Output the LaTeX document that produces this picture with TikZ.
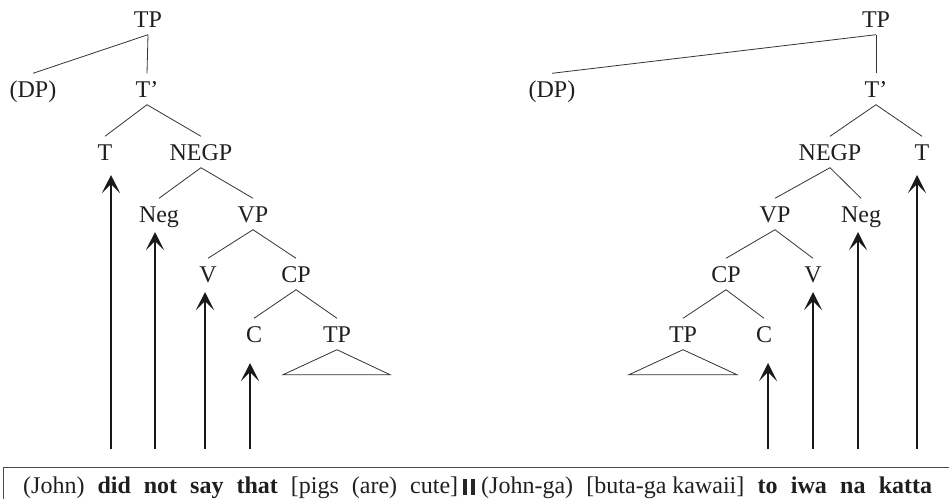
\documentclass[tikz,border=0pt]{standalone}
\usepackage{fontspec}
\setmainfont{Liberation Serif}
\usetikzlibrary{arrows.meta}
\begin{document}
\begin{tikzpicture}[x=1pt,y=-1pt,
  cat/.style={font=\fontsize{24}{28}\selectfont, text=black!88, inner xsep=0pt,
    inner ysep=7.5pt, text height=16pt, text depth=0pt, anchor=base},
  sent/.style={font=\fontsize{24}{28}\selectfont, text=black!88, inner sep=0pt, anchor=base west},
  branch/.style={draw=black!80, line width=0.8pt},
  move/.style={draw=black!90, line width=1.8pt, -{Stealth[length=18pt,width=18pt,inset=9pt]}},
  bar/.style={fill=black!85, draw=none},
  frame/.style={draw=black!70, line width=1pt}]
\useasboundingbox (0,0) rectangle (949,499);

% ---------- English tree (head-initial) ----------
\node[cat] (L-TP)   at (148,27)  {TP};
\node[cat] (L-DP)   at (33,97)   {(DP)};
\node[cat] (L-Tb)   at (147,97)  {T’};
\node[cat] (L-T)    at (105,160) {T};
\node[cat] (L-NegP) at (201,160) {NEGP};
\node[cat] (L-Neg)  at (159,222) {Neg};
\node[cat] (L-VP)   at (253,222) {VP};
\node[cat] (L-V)    at (208,282) {V};
\node[cat] (L-CP)   at (296,282) {CP};
\node[cat] (L-C)    at (254,342) {C};
\node[cat] (L-TPlo) at (337,342) {TP};

\draw[branch] (L-TP.south) -- (L-DP.north);
\draw[branch] (L-TP.south) -- (L-Tb.north);
\draw[branch] (L-Tb.south) -- (L-T.north);
\draw[branch] (L-Tb.south) -- (L-NegP.north);
\draw[branch] (L-NegP.south) -- (L-Neg.north);
\draw[branch] (L-NegP.south) -- (L-VP.north);
\draw[branch] (L-VP.south) -- (L-V.north);
\draw[branch] (L-VP.south) -- (L-CP.north);
\draw[branch] (L-CP.south) -- (L-C.north);
\draw[branch] (L-CP.south) -- (L-TPlo.north);
\draw[branch] (L-TPlo.south) -- ++(-54,25) -- ++(107,0) -- cycle;

% ---------- Japanese tree (head-final) ----------
\node[cat] (R-TP)   at (876,27)  {TP};
\node[cat] (R-DP)   at (552,97)  {(DP)};
\node[cat] (R-Tb)   at (876,97)  {T’};
\node[cat] (R-NegP) at (830,160) {NEGP};
\node[cat] (R-T)    at (922,160) {T};
\node[cat] (R-VP)   at (775,222) {VP};
\node[cat] (R-Neg)  at (861,222) {Neg};
\node[cat] (R-CP)   at (726,282) {CP};
\node[cat] (R-V)    at (813,282) {V};
\node[cat] (R-TPlo) at (683,342) {TP};
\node[cat] (R-C)    at (764,342) {C};

\draw[branch] (R-TP.south) -- (R-DP.north);
\draw[branch] (R-TP.south) -- (R-Tb.north);
\draw[branch] (R-Tb.south) -- (R-NegP.north);
\draw[branch] (R-Tb.south) -- (R-T.north);
\draw[branch] (R-NegP.south) -- (R-VP.north);
\draw[branch] (R-NegP.south) -- (R-Neg.north);
\draw[branch] (R-VP.south) -- (R-CP.north);
\draw[branch] (R-VP.south) -- (R-V.north);
\draw[branch] (R-CP.south) -- (R-TPlo.north);
\draw[branch] (R-CP.south) -- (R-C.north);
\draw[branch] (R-TPlo.south) -- ++(-54,25) -- ++(108,0) -- cycle;

% ---------- head movement arrows ----------
\coordinate (L-fT)   at (111,449);  \coordinate (L-hT)   at (111,175);
\coordinate (L-fNeg) at (155,449);  \coordinate (L-hNeg) at (155,232);
\coordinate (L-fV)   at (205,449);  \coordinate (L-hV)   at (205,292);
\coordinate (L-fC)   at (250,449);  \coordinate (L-hC)   at (250,363);
\coordinate (R-fC)   at (768,449);  \coordinate (R-hC)   at (768,363);
\coordinate (R-fV)   at (813,449);  \coordinate (R-hV)   at (813,292);
\coordinate (R-fNeg) at (858,449);  \coordinate (R-hNeg) at (858,232);
\coordinate (R-fT)   at (917,449);  \coordinate (R-hT)   at (917,175);
\draw[move] (L-fT)   -- (L-hT);
\draw[move] (L-fNeg) -- (L-hNeg);
\draw[move] (L-fV)   -- (L-hV);
\draw[move] (L-fC)   -- (L-hC);
\draw[move] (R-fC)   -- (R-hC);
\draw[move] (R-fV)   -- (R-hV);
\draw[move] (R-fNeg) -- (R-hNeg);
\draw[move] (R-fT)   -- (R-hT);

% ---------- example sentences ----------
\draw[frame] (3,499) -- (3,467) -- (949,467);

\node[sent] (en) at (23,493)
  {\makebox[435pt][s]{(John) \textbf{did} \textbf{not} \textbf{say} \textbf{that} [pigs (are) cute]}};
\fill[bar] (462.5,479) rectangle (466.5,495);
\fill[bar] (471,479) rectangle (475,495);
\node[sent] (ja) at (481,493)
  {\makebox[451pt][s]{(John-ga) [buta-ga\hspace{6pt}kawaii] \textbf{to} \textbf{iwa} \textbf{na} \textbf{katta}}};
\end{tikzpicture}
\end{document}
